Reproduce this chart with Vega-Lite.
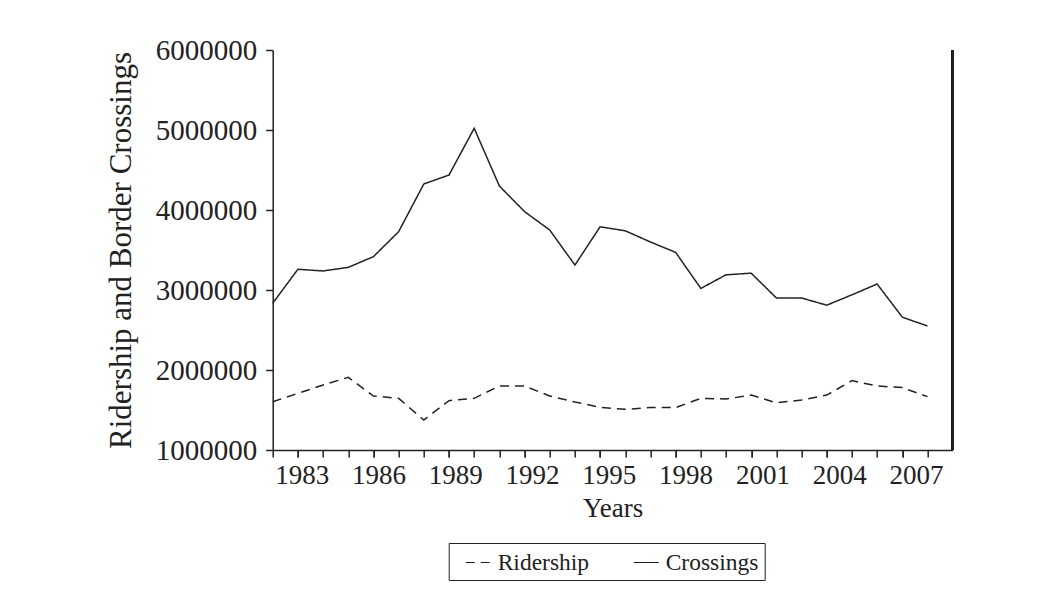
{
  "$schema": "https://vega.github.io/schema/vega-lite/v6.json",
  "width": 680,
  "height": 400,
  "autosize": "none",
  "padding": {"left": 272.7, "top": 50, "right": 107.3, "bottom": 146},
  "background": "white",
  "config": {
    "font": "Liberation Serif",
    "view": {"stroke": null},
    "axis": {"grid": false, "domainColor": "#222", "tickColor": "#222", "labelColor": "#222", "titleColor": "#222", "labelFont": "Liberation Serif", "titleFont": "Liberation Serif", "titleFontWeight": "normal", "domainWidth": 1.5, "tickWidth": 1.5}
  },
  "data": {
    "values": [
      {"year": 1982, "series": "Crossings", "value": 2834000},
      {"year": 1983, "series": "Crossings", "value": 3259000},
      {"year": 1984, "series": "Crossings", "value": 3238000},
      {"year": 1985, "series": "Crossings", "value": 3283000},
      {"year": 1986, "series": "Crossings", "value": 3417000},
      {"year": 1987, "series": "Crossings", "value": 3729000},
      {"year": 1988, "series": "Crossings", "value": 4325000},
      {"year": 1989, "series": "Crossings", "value": 4437000},
      {"year": 1990, "series": "Crossings", "value": 5021000},
      {"year": 1991, "series": "Crossings", "value": 4300000},
      {"year": 1992, "series": "Crossings", "value": 3980000},
      {"year": 1993, "series": "Crossings", "value": 3750000},
      {"year": 1994, "series": "Crossings", "value": 3312000},
      {"year": 1995, "series": "Crossings", "value": 3790000},
      {"year": 1996, "series": "Crossings", "value": 3740000},
      {"year": 1997, "series": "Crossings", "value": 3600000},
      {"year": 1998, "series": "Crossings", "value": 3470000},
      {"year": 1999, "series": "Crossings", "value": 3020000},
      {"year": 2000, "series": "Crossings", "value": 3190000},
      {"year": 2001, "series": "Crossings", "value": 3210000},
      {"year": 2002, "series": "Crossings", "value": 2900000},
      {"year": 2003, "series": "Crossings", "value": 2900000},
      {"year": 2004, "series": "Crossings", "value": 2810000},
      {"year": 2005, "series": "Crossings", "value": 2940000},
      {"year": 2006, "series": "Crossings", "value": 3075000},
      {"year": 2007, "series": "Crossings", "value": 2660000},
      {"year": 2008, "series": "Crossings", "value": 2550000},
      {"year": 1982, "series": "Ridership", "value": 1604000},
      {"year": 1983, "series": "Ridership", "value": 1708000},
      {"year": 1984, "series": "Ridership", "value": 1812000},
      {"year": 1985, "series": "Ridership", "value": 1908000},
      {"year": 1986, "series": "Ridership", "value": 1675000},
      {"year": 1987, "series": "Ridership", "value": 1646000},
      {"year": 1988, "series": "Ridership", "value": 1375000},
      {"year": 1989, "series": "Ridership", "value": 1617000},
      {"year": 1990, "series": "Ridership", "value": 1646000},
      {"year": 1991, "series": "Ridership", "value": 1800000},
      {"year": 1992, "series": "Ridership", "value": 1800000},
      {"year": 1993, "series": "Ridership", "value": 1675000},
      {"year": 1994, "series": "Ridership", "value": 1600000},
      {"year": 1995, "series": "Ridership", "value": 1533000},
      {"year": 1996, "series": "Ridership", "value": 1508000},
      {"year": 1997, "series": "Ridership", "value": 1530000},
      {"year": 1998, "series": "Ridership", "value": 1530000},
      {"year": 1999, "series": "Ridership", "value": 1646000},
      {"year": 2000, "series": "Ridership", "value": 1637000},
      {"year": 2001, "series": "Ridership", "value": 1687000},
      {"year": 2002, "series": "Ridership", "value": 1590000},
      {"year": 2003, "series": "Ridership", "value": 1625000},
      {"year": 2004, "series": "Ridership", "value": 1687000},
      {"year": 2005, "series": "Ridership", "value": 1867000},
      {"year": 2006, "series": "Ridership", "value": 1800000},
      {"year": 2007, "series": "Ridership", "value": 1780000},
      {"year": 2008, "series": "Ridership", "value": 1667000}
    ]
  },
  "resolve": {"axis": {"x": "independent"}},
  "layer": [
    {
      "mark": {"type": "line", "color": "#222", "strokeWidth": 1.5},
      "encoding": {
        "x": {
          "field": "year", "type": "quantitative",
          "scale": {"domain": [1982, 2009], "nice": false, "zero": false},
          "axis": {
            "orient": "bottom",
            "title": "Years", "titleFontSize": 27, "titlePadding": 7,
            "values": [1983, 1986, 1989, 1992, 1995, 1998, 2001, 2004, 2007],
            "format": "d",
            "labelOverlap": false, "labelFlush": false, "labelFontSize": 27, "labelPadding": 5, "tickSize": 7,
            "labelOffset": {"expr": "3.8 + 0.41 * (datum.value - 1983)"}
          }
        },
        "y": {
          "field": "value", "type": "quantitative",
          "scale": {"domain": [1000000, 6000000], "nice": false, "zero": false},
          "axis": {
            "title": "Ridership and Border Crossings", "titleFontSize": 31, "titlePadding": 18,
            "values": [1000000, 2000000, 3000000, 4000000, 5000000, 6000000],
            "format": "d", "labelFontSize": 29, "labelPadding": 9, "tickSize": 7, "labelFlush": false
          }
        },
        "strokeDash": {
          "field": "series", "type": "nominal",
          "scale": {"domain": ["Ridership", "Crossings"], "range": [[9, 6], [1, 0]]},
          "legend": {
            "title": null, "orient": "none", "direction": "horizontal",
            "legendX": 176, "legendY": 493,
            "strokeColor": "#222", "padding": 6,
            "labelFontSize": 23.5, "labelFont": "Liberation Serif", "labelColor": "#222",
            "symbolType": "stroke", "symbolSize": 625, "symbolStrokeColor": "#222", "symbolStrokeWidth": 1.2,
            "symbolOffset": 10, "labelOffset": 6, "columnPadding": 33
          }
        }
      }
    },
    {
      "mark": {"type": "rule", "color": "#222", "strokeWidth": 1.5},
      "encoding": {
        "x": {
          "datum": 2009, "type": "quantitative",
          "axis": {
            "orient": "bottom", "title": null, "labels": false, "domain": false, "tickSize": 7,
            "values": [1982,1983,1984,1985,1986,1987,1988,1989,1990,1991,1992,1993,1994,1995,1996,1997,1998,1999,2000,2001,2002,2003,2004,2005,2006,2007,2008]
          }
        },
        "y": {"datum": 1000000, "type": "quantitative"},
        "y2": {"datum": 6000000}
      }
    }
  ]
}
